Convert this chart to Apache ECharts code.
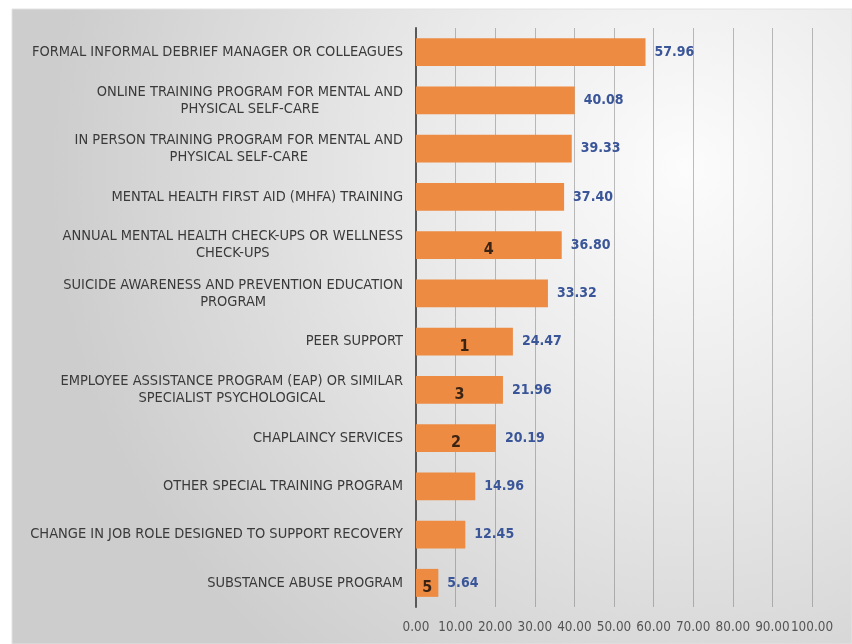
<!DOCTYPE html>
<html>
<head>
<meta charset="utf-8">
<script src="https://cdn.jsdelivr.net/npm/echarts@6/dist/echarts.min.js"></script>
<style>
  html, body { margin: 0; padding: 0; background: #ffffff; }
  #chart { width: 852px; height: 644px; }
</style>
</head>
<body>
<div id="chart"></div>
<script>
// Support options, listed top to bottom
const categories = [
  'FORMAL INFORMAL DEBRIEF MANAGER OR COLLEAGUES',
  'ONLINE TRAINING PROGRAM FOR MENTAL AND\nPHYSICAL SELF-CARE',
  'IN PERSON TRAINING PROGRAM FOR MENTAL AND\nPHYSICAL SELF-CARE',
  'MENTAL HEALTH FIRST AID (MHFA) TRAINING',
  'ANNUAL MENTAL HEALTH CHECK-UPS OR WELLNESS\nCHECK-UPS',
  'SUICIDE AWARENESS AND PREVENTION EDUCATION\nPROGRAM',
  'PEER SUPPORT',
  'EMPLOYEE ASSISTANCE PROGRAM (EAP) OR SIMILAR\nSPECIALIST PSYCHOLOGICAL',
  'CHAPLAINCY SERVICES',
  'OTHER SPECIAL TRAINING PROGRAM',
  'CHANGE IN JOB ROLE DESIGNED TO SUPPORT RECOVERY',
  'SUBSTANCE ABUSE PROGRAM'
];
const values = [57.96, 40.08, 39.33, 37.40, 36.80, 33.32, 24.47, 21.96, 20.19, 14.96, 12.45, 5.64];
// Rank numbers written inside some bars
const ranks = ['', '', '', '', '4', '', '1', '3', '2', '', '', '5'];
const xTicks = [0, 10, 20, 30, 40, 50, 60, 70, 80, 90, 100];

const labelFont = "'Liberation Sans Narrow', 'DejaVu Sans Condensed', sans-serif";

const chart = echarts.init(document.getElementById('chart'), null, { renderer: 'canvas' });

// category axis runs bottom-to-top, so reverse to keep the list order top-down
const cats = categories.slice().reverse();
const vals = values.slice().reverse();
const rks = ranks.slice().reverse();

chart.setOption({
  animation: false,
  backgroundColor: '#ffffff',
  graphic: [{
    type: 'rect',
    z: -10,
    shape: { x: 12, y: 9, width: 840, height: 635 },
    style: {
      fill: {
        type: 'radial', x: 0.8, y: 0.25, r: 1.0,
        colorStops: [
          { offset: 0, color: '#fcfcfc' },
          { offset: 0.5, color: '#e6e6e6' },
          { offset: 1, color: '#cdcdcd' }
        ]
      },
      stroke: '#e2e2e2', lineWidth: 1
    }
  }],
  grid: { left: 416, right: 40, top: 28, bottom: 37, containLabel: false },
  xAxis: {
    type: 'value',
    min: xTicks[0],
    max: xTicks[xTicks.length - 1],
    interval: 10,
    axisLine: { show: false },
    axisTick: { show: false },
    splitLine: { show: true, showMaxLine: true, lineStyle: { color: 'rgba(110,110,110,0.45)', width: 1 } },
    axisLabel: {
      show: true,
      margin: 14,
      hideOverlap: false,
      showMinLabel: true,
      showMaxLabel: true,
      color: '#555555',
      fontFamily: labelFont,
      fontSize: 13.4,
      formatter: v => v.toFixed(2)
    }
  },
  yAxis: {
    type: 'category',
    data: cats,
    axisLine: { show: true, lineStyle: { color: '#595959', width: 2 } },
    axisTick: { show: false },
    splitLine: { show: false },
    axisLabel: {
      margin: 13,
      color: '#3a3a3a',
      fontFamily: labelFont,
      fontSize: 14.5,
      lineHeight: 17,
      formatter: v => v.split('\n').map(s => '{c|' + s + '}').join('\n'),
      rich: {
        c: { align: 'center', fontFamily: labelFont, fontSize: 14.5, lineHeight: 17, color: '#3a3a3a' }
      }
    }
  },
  series: [
    {
      type: 'bar',
      data: vals,
      barWidth: '58%',
      itemStyle: { color: '#EE8B43' },
      label: {
        show: true,
        position: 'right',
        distance: 9,
        color: '#3A5699',
        fontFamily: labelFont,
        fontWeight: 'bold',
        fontSize: 14,
        formatter: p => p.value.toFixed(2)
      },
      z: 2
    },
    {
      type: 'bar',
      data: vals,
      barWidth: '58%',
      barGap: '-100%',
      itemStyle: { color: 'rgba(0,0,0,0)' },
      label: {
        show: true,
        position: 'inside',
        offset: [0, 5],
        color: '#3b2414',
        fontFamily: labelFont,
        fontWeight: 'bold',
        fontSize: 16,
        formatter: p => rks[p.dataIndex]
      },
      z: 3
    }
  ]
});
</script>
</body>
</html>
